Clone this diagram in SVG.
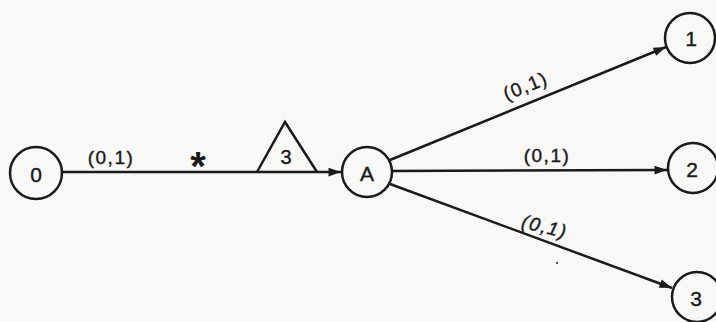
<svg xmlns="http://www.w3.org/2000/svg" width="716" height="322" viewBox="0 0 716 322">
  <style>
    .node circle { fill: none; stroke: #1a1a1a; stroke-width: 2.5; }
    .node text { font-family: "Liberation Sans", Arial, sans-serif; font-size: 21px; fill: #1a1a1a; stroke: #1a1a1a; stroke-width: 0.4; text-anchor: middle; dominant-baseline: central; }
    .edge { fill: none; stroke: #1a1a1a; stroke-width: 2.5; marker-end: url(#arrow); }
    .lbl { font-family: "Liberation Sans", Arial, sans-serif; font-size: 19px; fill: #1a1a1a; stroke: #1a1a1a; stroke-width: 0.4; text-anchor: middle; letter-spacing: 1.5px; }
    .star { font-family: "Liberation Sans", Arial, sans-serif; font-size: 40px; font-weight: bold; fill: #1a1a1a; text-anchor: middle; }
    .weight { font-family: "Liberation Sans", Arial, sans-serif; font-size: 20px; fill: #1a1a1a; stroke: #1a1a1a; stroke-width: 0.4; text-anchor: middle; }
  </style>
  <defs>
    <marker id="arrow" viewBox="0 0 10 10" refX="10" refY="5" markerWidth="6" markerHeight="5" markerUnits="strokeWidth" orient="auto">
      <path d="M0,1.5 L10,5 L0,8.5 z" fill="#1a1a1a"/>
    </marker>
  </defs>
  <rect width="716" height="322" fill="#f8f8f6"/>

  <g id="connectors">
    <line class="edge" x1="62" y1="172" x2="341" y2="172"/>
    <line class="edge" x1="390" y1="160" x2="666" y2="47"/>
    <line class="edge" x1="392" y1="171" x2="667" y2="170"/>
    <line class="edge" x1="390" y1="184" x2="672" y2="288"/>
    <!-- labels on the connectors -->
    <text class="lbl" x="111" y="164">(0,1)</text>
    <text class="lbl" transform="translate(528,92) rotate(-22)">(0,1)</text>
    <text class="lbl" x="547" y="162">(0,1)</text>
    <text class="lbl" font-style="italic" transform="translate(543,233) rotate(14)">(0,1)</text>
    <!-- delay marker on the 0 -> A link -->
    <text class="star" x="198" y="180">*</text>
    <g id="delay">
      <path d="M257,172 L285,122 L317,172" fill="none" stroke="#1a1a1a" stroke-width="2.5" stroke-linejoin="miter"/>
      <text class="weight" x="286" y="164">3</text>
    </g>
    <circle cx="557" cy="263" r="1" fill="#1a1a1a"/>
  </g>

  <g id="node-0" class="node"><circle cx="36" cy="173" r="26"/><text x="36" y="174">0</text></g>
  <g id="node-A" class="node"><circle cx="367" cy="172" r="25"/><text x="367" y="173">A</text></g>
  <g id="node-1" class="node"><circle cx="690" cy="38" r="25"/><text x="691" y="38">1</text></g>
  <g id="node-2" class="node"><circle cx="693" cy="168" r="25"/><text x="692" y="169">2</text></g>
  <g id="node-3" class="node"><circle cx="697" cy="297" r="25"/><text x="696" y="298">3</text></g>
</svg>
